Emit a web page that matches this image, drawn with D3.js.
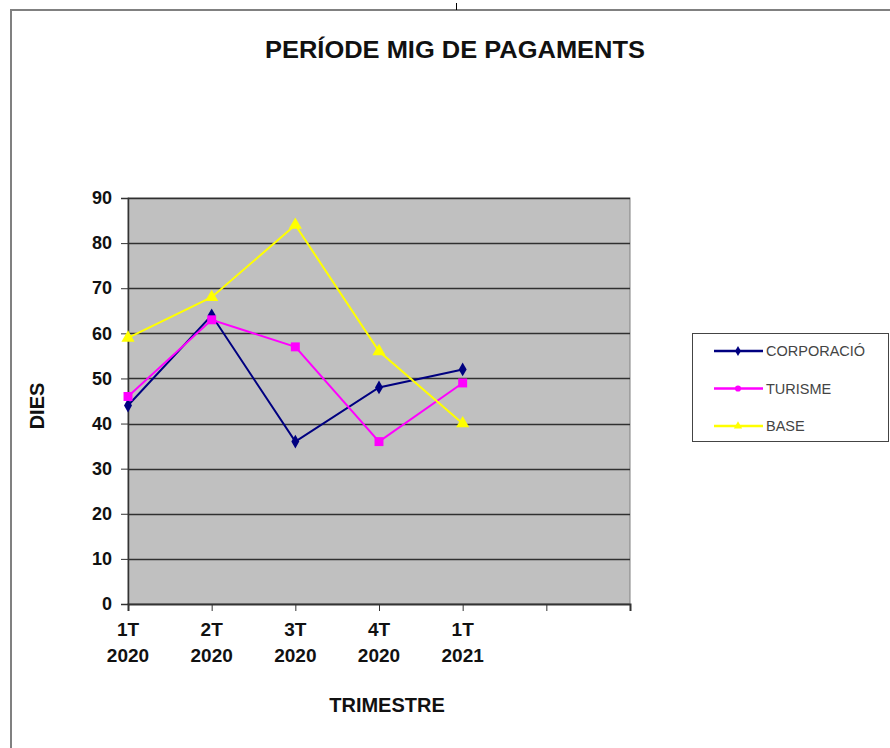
<!DOCTYPE html>
<html lang="ca">
<head>
<meta charset="UTF-8">
<script src="https://d3js.org/d3.v7.min.js"></script>
<title>Període mig de pagaments</title>
<style>
  body { margin: 0; background: white; }
  svg { display: block; font-family: Arial, "Liberation Sans", sans-serif; }
</style>
</head>
<body>
<svg id="chart"></svg>
<script>
// categories (the last two slots are empty in the original chart)
const trimestres = ["1T 2020", "2T 2020", "3T 2020", "4T 2020", "1T 2021", "", ""];
const corporacio = [44, 64, 36, 48, 52];
const turisme = [46, 63, 57, 36, 49];
const base = [59, 68, 84, 56, 40];
const yTicks = [0, 10, 20, 30, 40, 50, 60, 70, 80, 90];

const series = [
  { name: "CORPORACIÓ", values: corporacio, color: "#000080", marker: d3.symbolDiamond, size: 55, legendMarker: d3.symbolDiamond },
  { name: "TURISME", values: turisme, color: "#ff00ff", marker: d3.symbolSquare, size: 80, legendMarker: d3.symbolCircle },
  { name: "BASE", values: base, color: "#ffff00", marker: d3.symbolTriangle, size: 75, legendMarker: d3.symbolTriangle }
];

const w = 890, h = 748;
const plot = { left: 128, right: 630, top: 198, bottom: 604 };

const svg = d3.select("#chart").attr("width", w).attr("height", h);

// outer frame of the chart object
svg.append("rect")
  .attr("x", 11).attr("y", 10)
  .attr("width", w).attr("height", h)
  .attr("fill", "white")
  .attr("stroke", "#808080")
  .attr("stroke-width", 2);
svg.append("line")
  .attr("x1", 456.5).attr("x2", 456.5).attr("y1", 3).attr("y2", 10)
  .attr("stroke", "#000");

svg.append("text")
  .attr("x", 455).attr("y", 58)
  .attr("text-anchor", "middle")
  .attr("font-weight", "bold")
  .attr("font-size", 24)
  .attr("fill", "#111")
  .attr("textLength", 380)
  .attr("lengthAdjust", "spacingAndGlyphs")
  .text("PERÍODE MIG DE PAGAMENTS");

const x = d3.scalePoint()
  .domain(d3.range(trimestres.length))
  .range([plot.left, plot.right]);

const y = d3.scaleLinear()
  .domain([0, 90])
  .range([plot.bottom, plot.top]);

svg.append("rect")
  .attr("x", plot.left).attr("y", plot.top)
  .attr("width", plot.right - plot.left)
  .attr("height", plot.bottom - plot.top)
  .attr("fill", "#c0c0c0")
  .attr("stroke", "#808080")
  .attr("stroke-width", 1);

// gridlines
svg.append("g")
  .selectAll("line")
  .data(yTicks.filter(d => d > 0))
  .join("line")
  .attr("x1", plot.left).attr("x2", plot.right)
  .attr("y1", d => Math.round(y(d)) + 0.5)
  .attr("y2", d => Math.round(y(d)) + 0.5)
  .attr("stroke", "#303030")
  .attr("stroke-width", 1.5);

// y axis
const yAxis = d3.axisLeft(y).tickValues(yTicks).tickSize(7).tickPadding(9);
const gy = svg.append("g")
  .attr("transform", `translate(${plot.left},0)`)
  .call(yAxis);
gy.selectAll("text").attr("font-size", 18).attr("font-weight", "bold").attr("fill", "#111");
gy.selectAll("line").attr("stroke", "#333");
gy.select(".domain").attr("stroke", "#333").attr("stroke-width", 1.5);

// x axis
const xAxis = d3.axisBottom(x).tickSize(7).tickFormat("");
const gx = svg.append("g")
  .attr("transform", `translate(0,${plot.bottom})`)
  .call(xAxis);
gx.selectAll("line").attr("stroke", "#333");
gx.select(".domain").attr("stroke", "#333").attr("stroke-width", 2);

const xLabels = svg.append("g")
  .selectAll("text")
  .data(trimestres.map((t, i) => ({ t, i })).filter(d => d.t))
  .join("text")
  .attr("x", d => x(d.i))
  .attr("y", 636)
  .attr("text-anchor", "middle")
  .attr("font-size", 19)
  .attr("font-weight", "bold")
  .attr("fill", "#111");
xLabels.each(function(d) {
  const parts = d.t.split(" ");
  const sel = d3.select(this);
  sel.append("tspan").attr("x", x(d.i)).attr("dy", 0).text(parts[0]);
  sel.append("tspan").attr("x", x(d.i)).attr("dy", 26).text(parts[1]);
});

// axis titles
svg.append("text")
  .attr("x", 387).attr("y", 712)
  .attr("text-anchor", "middle")
  .attr("font-size", 20).attr("font-weight", "bold")
  .attr("fill", "#111")
  .text("TRIMESTRE");
svg.append("text")
  .attr("transform", "translate(44,406) rotate(-90)")
  .attr("text-anchor", "middle")
  .attr("font-size", 20).attr("font-weight", "bold")
  .attr("fill", "#111")
  .text("DIES");

// series
const line = d3.line().x((d, i) => x(i)).y(d => y(d));
series.forEach(s => {
  svg.append("path")
    .datum(s.values)
    .attr("d", line)
    .attr("fill", "none")
    .attr("stroke", s.color)
    .attr("stroke-width", 2);
  svg.append("g")
    .selectAll("path")
    .data(s.values)
    .join("path")
    .attr("transform", (d, i) => `translate(${x(i)},${y(d)})`)
    .attr("d", d3.symbol().type(s.marker).size(s.size))
    .attr("fill", s.color);
});

// legend
const legend = svg.append("g");
legend.append("rect")
  .attr("x", 692.5).attr("y", 333.5)
  .attr("width", 196).attr("height", 108)
  .attr("fill", "white")
  .attr("stroke", "#444")
  .attr("stroke-width", 1);
series.forEach((s, i) => {
  const ly = 351 + i * 37.5;
  legend.append("line")
    .attr("x1", 714).attr("x2", 763)
    .attr("y1", ly).attr("y2", ly)
    .attr("stroke", s.color).attr("stroke-width", 2.5);
  legend.append("path")
    .attr("transform", `translate(738,${ly})`)
    .attr("d", d3.symbol().type(s.legendMarker).size(30))
    .attr("fill", s.color);
  legend.append("text")
    .attr("x", 766).attr("y", ly + 5)
    .attr("font-size", 14.5)
    .attr("fill", "#444")
    .text(s.name);
});
</script>
</body>
</html>
